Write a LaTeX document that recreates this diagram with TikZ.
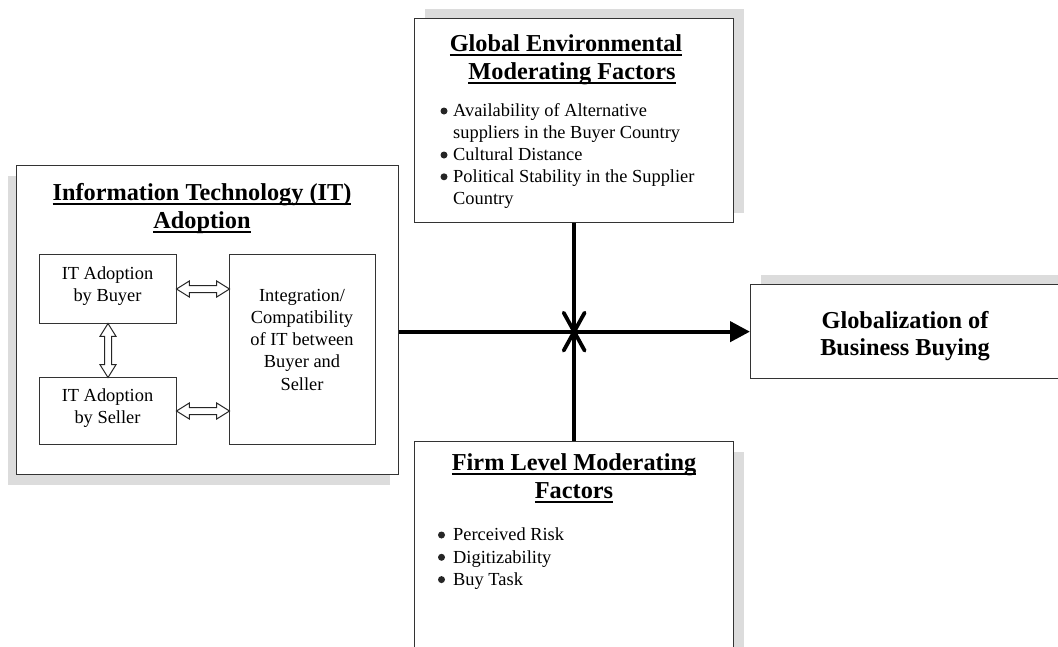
\documentclass[tikz,border=0pt]{standalone}
\usepackage{fontspec}
\setmainfont{Liberation Serif}
\usetikzlibrary{arrows.meta,shapes.arrows,shadows,calc}

\definecolor{boxline}{HTML}{333333}
\definecolor{shadowgray}{HTML}{DCDCDC}

\newcommand\bodysize{\fontsize{18.4}{22}\selectfont}
\newcommand\headsize{\fontsize{24.3}{28}\selectfont\bfseries}
% underline at a fixed depth below the baseline
\newcommand\ulined[1]{\setbox0\hbox{#1}\rlap{\rule[-4.6pt]{\wd0}{1.6pt}}\box0}

\begin{document}
\begin{tikzpicture}[x=1pt,y=-1pt,
  panel/.style={draw=boxline, line width=1.3pt, fill=white, inner sep=0pt,
    anchor=north west},
  inner/.style={draw=boxline, line width=1pt, fill=white, inner sep=0pt,
    anchor=north west},
  shade/.style 2 args={general shadow={fill=shadowgray, shadow xshift=#1pt,
    shadow yshift=#2pt}},
  txt/.style={inner sep=0pt, anchor=base, font=\bodysize},
  lft/.style={inner sep=0pt, anchor=base west, font=\bodysize},
  hd/.style={inner sep=0pt, anchor=base, font=\headsize},
  dot/.style={circle, fill=black!85, inner sep=0pt, minimum size=7pt},
  dbl/.style={double arrow, draw=black!85, fill=white, line width=1pt,
    inner sep=3pt, double arrow head extend=4.5pt, double arrow tip angle=64,
    double arrow head indent=0pt},
  bigline/.style={line width=4.3pt, draw=black}]

\useasboundingbox (0,0) rectangle (1058,646);
\clip (0,0) rectangle (1058,646);

% outer panels with their offset shadows
\node[panel, shade={-9}{-10}, minimum width=382, minimum height=309]
  (itbox) at (16,165) {};
\node[panel, shade={10}{10}, minimum width=319, minimum height=204]
  (global) at (414,18) {};
\node[panel, shade={10}{10}, minimum width=320, minimum height=94]
  (glob) at (750,284) {};
\node[panel, shade={10}{-10}, minimum width=319, minimum height=225]
  (firm) at (414,441) {};

% IT adoption panel
\node[hd] (ittitleA) at (202,200) {\ulined{Information Technology (IT)}};
\node[hd] (ittitleB) at (202,228) {\ulined{Adoption}};

\node[inner, minimum width=137, minimum height=69] (buyer) at (39,254) {};
\node[inner, minimum width=137, minimum height=67] (seller) at (39,377) {};
\node[inner, minimum width=146, minimum height=190] (integ) at (229,254) {};

\node[txt] (buyerA) at (107.5,279) {IT Adoption};
\node[txt] (buyerB) at (107.5,301.7) {by Buyer};
\node[txt] (sellerA) at (107.5,401.5) {IT Adoption};
\node[txt] (sellerB) at (107.5,423.5) {by Seller};
\node[txt] (integA) at (302,301.5) {Integration/};
\node[txt] (integB) at (302,323.5) {Compatibility};
\node[txt] (integC) at (302,345.7) {of IT between};
\node[txt] (integD) at (302,367.7) {Buyer and};
\node[txt] (integE) at (302,390) {Seller};

% two-headed hollow arrows inside the IT panel
\path (buyer.east) -- (integ.west |- buyer.east)
  node[dbl, midway, sloped, minimum height=53pt] (arrBI) {};
\path (seller.east) -- (integ.west |- seller.east)
  node[dbl, midway, sloped, minimum height=53pt] (arrSI) {};
\path (buyer.south) -- (seller.north)
  node[dbl, midway, sloped, minimum height=54pt] (arrBS) {};

% global environmental factors
\node[hd] (gtitleA) at (566,51) {\ulined{Global Environmental}};
\node[hd] (gtitleB) at (572,79) {\ulined{Moderating Factors}};
\node[dot] (gb1) at (444,111) {};
\node[lft] (g1) at (453,116.7) {Availability of Alternative};
\node[lft] (g2) at (453,138.5) {suppliers in the Buyer Country};
\node[dot] (gb2) at (444,155) {};
\node[lft] (g3) at (453,160.7) {Cultural Distance};
\node[dot] (gb3) at (444,176.8) {};
\node[lft] (g4) at (453,182.5) {Political Stability in the Supplier};
\node[lft] (g5) at (453,204.7) {Country};

% outcome
\node[hd] (outA) at (905,328) {Globalization of};
\node[hd] (outB) at (905,355) {Business Buying};

% firm level factors
\node[hd] (ftitleA) at (574,470) {\ulined{Firm Level Moderating}};
\node[hd] (ftitleB) at (574,498) {\ulined{Factors}};
\node[dot] (fb1) at (441.5,535) {};
\node[lft] (f1) at (453,540.7) {Perceived Risk};
\node[dot] (fb2) at (441.5,557.3) {};
\node[lft] (f2) at (453,563) {Digitizability};
\node[dot] (fb3) at (441.5,579.6) {};
\node[lft] (f3) at (453,585.3) {Buy Task};

% main relationship and moderators
\draw[bigline, -{Triangle[length=20pt,width=20pt]}]
  (itbox.east |- glob.west) -- (glob.west);
\draw[bigline] (global.south) -- (firm.north);
\coordinate (hub) at (global.south |- glob.west);
\draw[bigline, line width=3.8pt, line cap=round]
  ($(hub)+(-10.5,-19)$) -- ($(hub)+(10.5,19)$);
\draw[bigline, line width=3.8pt, line cap=round]
  ($(hub)+(10.5,-19)$) -- ($(hub)+(-10.5,19)$);
\end{tikzpicture}
\end{document}
